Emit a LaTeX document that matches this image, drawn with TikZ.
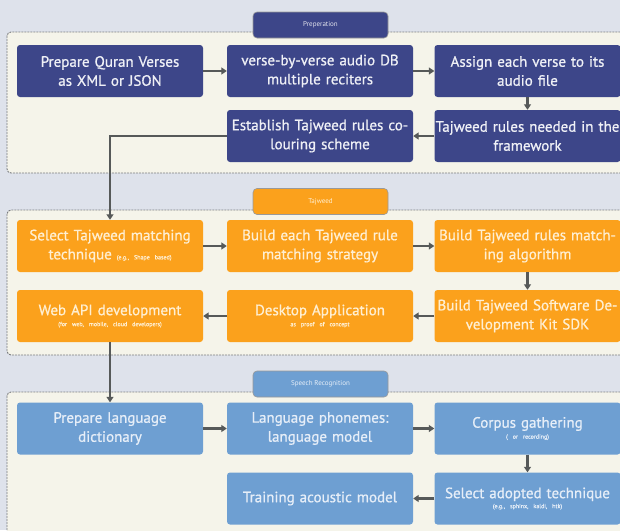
\documentclass[tikz,border=0pt]{standalone}
\usepackage{fontspec}
\setmainfont{PT Sans}
\newfontfamily\medfont{PT Sans}[FakeBold=0.8]
\usetikzlibrary{arrows.meta}

\definecolor{bgc}{HTML}{DEE2EB}
\definecolor{panelc}{HTML}{F5F4EA}
\definecolor{panelline}{HTML}{7A7C80}
\definecolor{prepc}{HTML}{3D4689}
\definecolor{tajc}{HTML}{FBA11C}
\definecolor{tajtext}{HTML}{FFEFD2}
\definecolor{src}{HTML}{6E9FD2}
\definecolor{srtext}{HTML}{E6EEF8}
\definecolor{linkc}{HTML}{565959}

% small explanatory note set inside a box so its spaces keep their width
\newcommand{\smalltxt}[1]{\mbox{\fontsize{6}{7}\selectfont #1}}

\begin{document}
\begin{tikzpicture}[x=1pt,y=-1pt,
  box/.style={rounded corners=3pt, minimum width=186pt, minimum height=52pt,
    text width=184pt, inner sep=1pt, align=center,
    font=\fontsize{15}{19}\medfont},
  prepbox/.style={box, fill=prepc, text=white!92!prepc},
  tajbox/.style={box, fill=tajc, text=tajtext},
  srbox/.style={box, fill=src, text=srtext},
  tab/.style={rounded corners=4pt, minimum width=135pt, minimum height=26pt,
    inner sep=1pt, draw=black!40, line width=0.6pt, font=\fontsize{7}{8}\selectfont},
  panel/.style={draw=panelline, dash pattern=on 2pt off 1pt, fill=panelc,
    rounded corners=4pt, line width=0.9pt},
  link/.style={draw=linkc, line width=2.4pt, -{Triangle[length=5.5pt,width=7pt]}}]

\useasboundingbox (0,0) rectangle (620,530);
\clip (0,0) rectangle (620,530);
\fill[bgc] (0,0) rectangle (620,530);

% section panels
\draw[panel] (7,32) rectangle (632,173);
\draw[panel] (7,210) rectangle (632,355);
\draw[panel] (7,392) rectangle (632,545);

% section tabs
\node[tab, fill=prepc, text=white!85!prepc] (tprep) at (320.5,25) {Preperation};
\node[tab, fill=tajc, text=tajtext] (ttaj) at (320.5,201.5) {Tajweed};
\node[tab, fill=src, text=srtext] (tsr) at (320.5,384) {Speech Recognition};

% preparation steps
\node[prepbox] (verses) at (110,71) {Prepare Quran Verses\\as XML or JSON};
\node[prepbox] (audio) at (320,71) {verse-by-verse audio DB\\multiple reciters};
\node[prepbox] (assign) at (527.5,71) {Assign each verse to its\\audio file};
\node[prepbox] (needed) at (527.5,136) {Tajweed rules needed in the\\framework};
\node[prepbox] (colour) at (320,136) {Establish Tajweed rules co-\\louring scheme};

% tajweed steps
\node[tajbox] (select) at (110,246) {Select Tajweed matching\\technique \smalltxt{(e.g., Shape based)}};
\node[tajbox] (strategy) at (320,246) {Build each Tajweed rule\\matching strategy};
\node[tajbox] (algo) at (527.5,246) {Build Tajweed rules match-\\ing algorithm};
\node[tajbox] (sdk) at (527.5,316) {Build Tajweed Software De-\\velopment Kit SDK};
\node[tajbox] (desktop) at (320,316) {Desktop Application\\[-8pt]\smalltxt{as proof of concept}};
\node[tajbox] (webapi) at (110,316) {Web API development\\[-8pt]\smalltxt{(for web, mobile, cloud developers)}};

% speech recognition steps
\node[srbox] (dict) at (110,428.5) {Prepare language\\dictionary};
\node[srbox] (phon) at (320,428.5) {Language phonemes:\\language model};
\node[srbox] (corpus) at (527.5,428.5) {Corpus gathering\\[-8pt]\smalltxt{( or recording)}};
\node[srbox] (adopt) at (527.5,498.5) {Select adopted technique\\[-9pt]\smalltxt{(e.g., sphinx, kaldi, htk)}};
\node[srbox] (acoustic) at (320,498.5) {Training acoustic model};

% flow
\draw[link] (verses) -- (audio);
\draw[link] (audio) -- (assign);
\draw[link] (assign) -- (needed);
\draw[link] (needed) -- (colour);
\draw[link] (colour.west) -| (select.north);

\draw[link] (select) -- (strategy);
\draw[link] (strategy) -- (algo);
\draw[link] (algo) -- (sdk);
\draw[link] (sdk) -- (desktop);
\draw[link] (desktop) -- (webapi);
\draw[link] (webapi) -- (dict);

\draw[link] (dict) -- (phon);
\draw[link] (phon) -- (corpus);
\draw[link] (corpus) -- (adopt);
\draw[link] (adopt) -- (acoustic);
\end{tikzpicture}
\end{document}
